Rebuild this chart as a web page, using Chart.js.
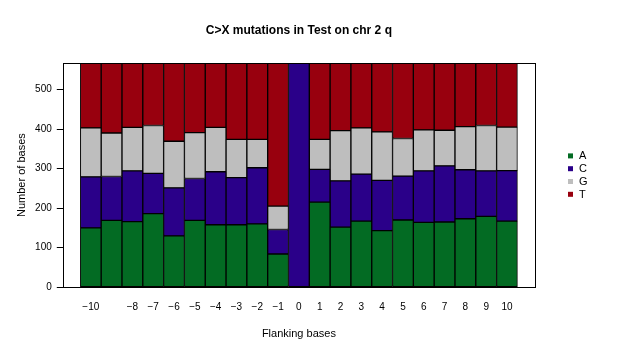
<!DOCTYPE html>
<html><head><meta charset="utf-8">
<script src="https://cdn.jsdelivr.net/npm/chart.js@4/dist/chart.umd.min.js"></script>
<style>html,body{margin:0;padding:0;background:#fff}#wrap{width:630px;height:351px}</style>
</head><body><div id="wrap"><canvas id="c" width="630" height="351"></canvas></div>
<script>
const chartTitle = 'C>X mutations in Test on chr 2 q';
const categories = ['-10','-9','-8','-7','-6','-5','-4','-3','-2','-1','0','1','2','3','4','5','6','7','8','9','10'];
const tickLabels = ['\u221210','','\u22128','\u22127','\u22126','\u22125','\u22124','\u22123','\u22122','\u22121','0','1','2','3','4','5','6','7','8','9','10'];
const baseA = [150,169,166,186,130,169,158,158,160,84,0,215,152,167,143,170,164,165,173,179,167];
const baseC = [129,111,128,102,121,106,134,119,142,62,567,83,117,119,127,111,130,142,124,115,128];
const baseG = [124,110,110,121,118,116,112,97,72,59,0,76,127,117,123,95,104,90,109,115,110];
const baseT = [164,177,163,158,198,176,163,193,193,362,0,193,171,164,174,191,169,170,161,158,162];
const seriesNames = ['A','C','G','T'];
const seriesColors = ['#036B23','#2A0089','#BEBEBE','#98000E'];
const yTicks = [0,100,200,300,400,500];
const yMax = 567;

const FONT = "'Liberation Sans', Arial, sans-serif";
const SIDE_PAD = 0.845; // extra category-widths of space inside the frame

const series = [baseA, baseC, baseG, baseT];
const datasets = series.map((d, i) => ({
  label: seriesNames[i], data: d, backgroundColor: seriesColors[i],
  borderColor: '#000', borderWidth: 1, borderSkipped: false,
  barPercentage: 1, categoryPercentage: 1
}));

const framePlugin = {
  id: 'frame',
  afterDraw(chart) {
    const {ctx, chartArea: a} = chart;
    ctx.save();
    ctx.strokeStyle = '#000'; ctx.lineWidth = 1;
    ctx.strokeRect(Math.round(a.left) + 0.5, Math.round(a.top) + 0.5, Math.round(a.right - a.left), Math.round(a.bottom - a.top));
    // title
    ctx.fillStyle = '#000';
    ctx.font = 'bold 12px ' + FONT;
    ctx.textAlign = 'center'; ctx.textBaseline = 'middle';
    ctx.fillText(chartTitle, (a.left + a.right) / 2, 31);
    // legend
    ctx.font = '11px ' + FONT;
    ctx.textAlign = 'left';
    const cy = (a.top + a.bottom) / 2;
    chart.data.datasets.forEach((ds, i) => {
      const y = cy - 19.2 + i * 12.8;
      ctx.fillStyle = ds.backgroundColor;
      ctx.fillRect(a.right + 33, y - 2.5, 5, 5);
      ctx.fillStyle = '#000';
      ctx.fillText(ds.label, a.right + 44, y + 0.5);
    });
    ctx.restore();
  }
};

new Chart(document.getElementById('c'), {
  type: 'bar',
  data: { labels: categories, datasets },
  options: {
    responsive: false, animation: false,
    layout: { padding: { top: 63, left: 8, bottom: 6, right: 95 } },
    plugins: { legend: { display: false }, title: { display: false }, tooltip: { enabled: false } },
    scales: {
      x: {
        type: 'category', stacked: true, offset: true,
        afterBuildTicks: s => { s._startValue -= SIDE_PAD; s._valueRange += 2 * SIDE_PAD; },
        grid: { display: false, drawTicks: false },
        border: { display: false },
        ticks: { autoSkip: false, maxRotation: 0, padding: 14, color: '#000', font: { size: 10, family: FONT },
                 callback: (v, i) => tickLabels[i] },
        title: { display: true, text: 'Flanking bases', color: '#000', font: { size: 11, family: FONT }, padding: { top: 0.6, bottom: 4 } }
      },
      y: {
        stacked: true, min: 0, max: yMax,
        afterBuildTicks: s => { s.ticks = yTicks.map(v => ({ value: v })); },
        grid: { display: true, drawOnChartArea: false, drawTicks: true, tickLength: 6, color: '#000' },
        border: { display: false },
        ticks: { padding: 5, color: '#000', font: { size: 10, family: FONT }, includeBounds: false },
        title: { display: true, text: 'Number of bases', color: '#000', font: { size: 11, family: FONT }, padding: { top: 6.9, bottom: 2 } }
      }
    }
  },
  plugins: [framePlugin]
});
</script></body></html>
